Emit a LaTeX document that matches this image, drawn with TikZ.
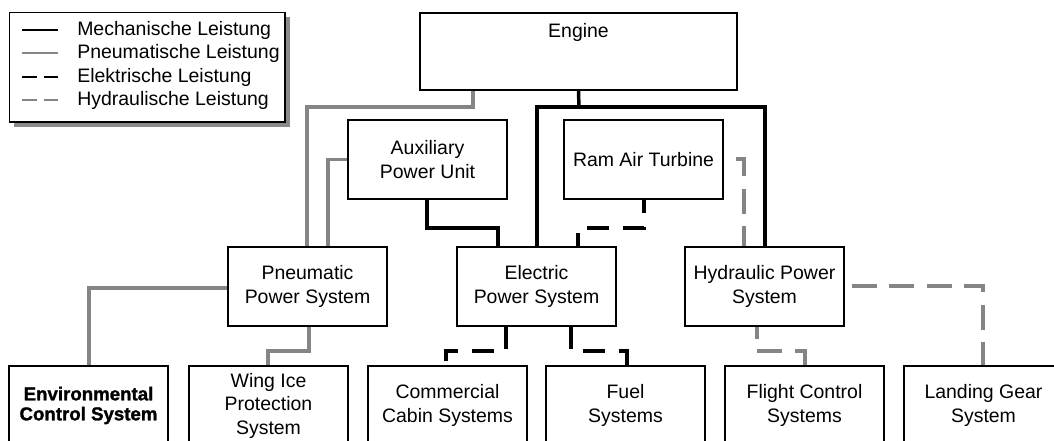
\documentclass[tikz,border=0pt]{standalone}
\usepackage{fontspec}
\setmainfont{Liberation Sans}
\newfontfamily\heavyfont[FakeBold=1.4]{Liberation Sans Bold}
\definecolor{lgray}{HTML}{858585}
\definecolor{shadowgray}{HTML}{8A8A8A}
\begin{document}
\begin{tikzpicture}[x=0.75pt,y=-0.75pt,
  txt/.style={font=\fontsize{14.6pt}{17.6pt}\selectfont, align=center},
  box/.style={txt, draw, line width=1.3pt, fill=white, inner sep=0pt,
    minimum width=119.25pt, minimum height=59.25pt},
  mech/.style={line width=2.6pt, black},
  pneu/.style={line width=2.6pt, lgray},
  elec/.style={line width=2.6pt, black, dash pattern=on 16.5pt off 10.5pt},
  hydr/.style={line width=2.6pt, lgray, dash pattern=on 18.75pt off 9.4pt},
  legline/.style={line width=1.7pt},
  legtxt/.style={font=\fontsize{14.6pt}{17pt}\selectfont, anchor=west, inner sep=0pt}
]
\useasboundingbox (0,0) rectangle (1054,440);
\clip (0,0) rectangle (1054,440);

% legend
\fill[shadowgray] (14,17) rectangle (289.5,126.5);
\draw[line width=1.3pt, fill=white] (9.5,12.5) rectangle (285,122);
\draw[legline, black] (22,30) -- (58,30);
\node[legtxt] (lmech) at (77,30) {Mechanische Leistung};
\draw[legline, lgray] (22,53) -- (58,53);
\node[legtxt] (lpneu) at (77,53) {Pneumatische Leistung};
\draw[legline, black, dash pattern=on 11pt off 5.5pt] (22,77) -- (58,77);
\node[legtxt] (lelec) at (77,77) {Elektrische Leistung};
\draw[legline, lgray, dash pattern=on 11pt off 5.5pt] (22,100) -- (58,100);
\node[legtxt] (lhydr) at (77,100) {Hydraulische Leistung};

% boxes
\node[box, minimum width=237.75pt, minimum height=57.75pt] (engine) at (578.5,51.5) {};
\node[txt, anchor=north, inner sep=0pt] (enginetxt) at (578.5,23) {Engine};
\node[box] (apu) at (427.5,159.5) {Auxiliary\\Power Unit};
\node[box] (rat) at (643.5,159.5) {Ram Air Turbine};
\node[box] (pps) at (307.5,286.5) {Pneumatic\\Power System};
\node[box] (eps) at (536.5,286.5) {Electric\\Power System};
\node[box] (hps) at (764.5,286.5) {Hydraulic Power\\System};
\node[box, font=\fontsize{14pt}{15pt}\heavyfont] (ecs) at (88.5,405.5) {Environmental\\Control System};
\node[box] (wip) at (268.5,405.5) {Wing Ice\\Protection\\System};
\node[box] (ccs) at (447.5,405.5) {Commercial\\Cabin Systems};
\node[box] (fuel) at (625.5,405.5) {Fuel\\Systems};
\node[box] (fcs) at (804.5,405.5) {Flight Control\\Systems};
\node[box] (lgs) at (983.5,405.5) {Landing Gear\\System};

% mechanical
\draw[mech] (engine.south) -- (579,108);
\draw[mech] (eps.north -| 537,0) -- (537,107) -- (765,107) -- (hps.north -| 765,0);
\draw[mech] (apu.south -| 427,0) -- (427,228) -- (498,228) -- (eps.north -| 498,0);

% pneumatic
\draw[pneu] (engine.south -| 473,0) -- (473,107) -- (307,107) -- (pps.north -| 307,0);
\draw[pneu] (apu.west) -- (328,159.5) -- (pps.north -| 328,0);
\draw[pneu] (pps.west |- 0,288) -- (89,288) -- (ecs.north -| 89,0);
\draw[pneu] (pps.south -| 309,0) -- (309,351) -- (268,351) -- (wip.north -| 268,0);

% electric
\draw[elec, dash phase=6.75pt] (rat.south -| 644,0) -- (644,228) -- (578,228) -- (eps.north -| 578,0);
\draw[elec] (eps.south -| 506,0) -- (506,351) -- (446,351) -- (ccs.north -| 446,0);
\draw[elec] (eps.south -| 571,0) -- (571,351) -- (627,351) -- (fuel.north -| 627,0);

% hydraulic
\draw[hydr, dash phase=18.75pt] (rat.east |- 0,159) -- (744,159) -- (hps.north -| 744,0);
\draw[hydr, dash phase=23pt] (hps.east |- 0,286) -- (983,286) -- (lgs.north -| 983,0);
\draw[hydr, dash phase=9.75pt] (hps.south -| 757,0) -- (757,351) -- (805,351) -- (fcs.north -| 805,0);
\end{tikzpicture}
\end{document}
